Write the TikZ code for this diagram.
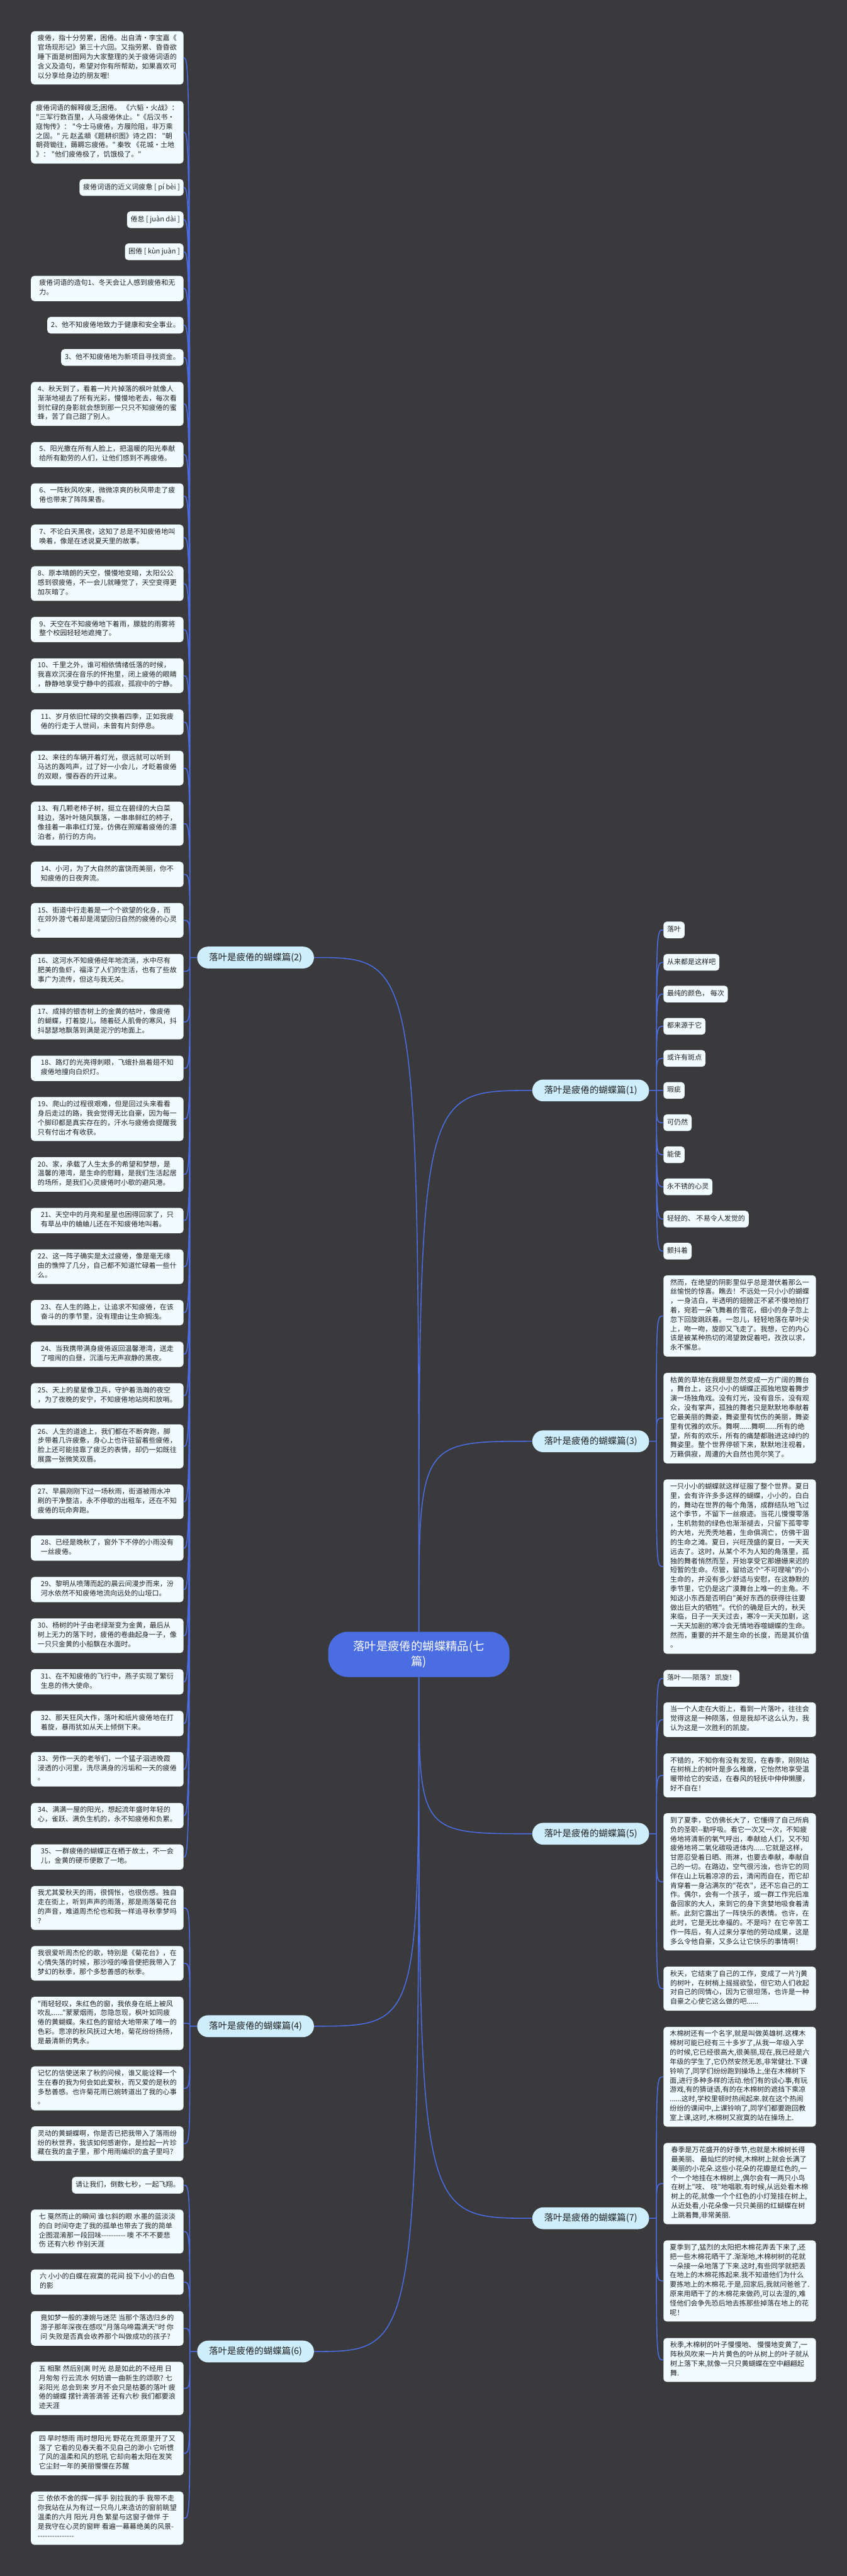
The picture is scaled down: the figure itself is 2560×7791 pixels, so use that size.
\documentclass[tikz,border=0pt]{standalone}
\usepackage{fontspec}
\usepackage{tikz}
\usetikzlibrary{positioning}
\newfontfamily\cjk[Ligatures=TeXOff]{Noto Sans CJK SC}
\definecolor{bgc}{RGB}{58,57,60}
\definecolor{leafc}{RGB}{240,252,255}
\definecolor{branchc}{RGB}{206,238,253}
\definecolor{linkc}{RGB}{74,108,224}
\definecolor{rootc}{RGB}{74,110,226}
\definecolor{inkc}{RGB}{34,34,34}

\begin{document}
\begin{tikzpicture}[x=0.5pt,y=-0.5pt,
  leaf/.style={fill=leafc,text=inkc,rounded corners=5pt,inner xsep=5.5pt,inner ysep=5.5pt,align=left,font=\cjk\fontsize{10.5}{14.1}\selectfont,execute at begin node=\strut,execute at end node=\strut},
  longleaf/.style={leaf,inner xsep=5pt,minimum width=230.5pt},
  branch/.style={fill=branchc,text=inkc,rounded corners=16.5pt,minimum width=176.5pt,minimum height=33pt,font=\cjk\fontsize{13.75}{16}\selectfont},
  link/.style={draw=linkc,line width=1.5pt}]
      \fill[bgc] (0,0) rectangle (2560,7791);
      \useasboundingbox (0,0) rectangle (2560,7791);

      \node[fill=rootc,text=white,rounded corners=30pt,minimum width=274pt,minimum height=68.5pt,align=center,font=\cjk\fontsize{17.5}{23.5}\selectfont](root) at (1266,5003.5){落叶是疲倦的蝴蝶精品(七\\篇)};

      \node[branch](b1) at (1785.5,3298){落叶是疲倦的蝴蝶篇(1)};
      \node[branch](b2) at (772.5,2896){落叶是疲倦的蝴蝶篇(2)};
      \node[branch](b3) at (1785.5,4359){落叶是疲倦的蝴蝶篇(3)};
      \node[branch](b4) at (772.5,6128){落叶是疲倦的蝴蝶篇(4)};
      \node[branch](b5) at (1785.5,5546){落叶是疲倦的蝴蝶篇(5)};
      \node[branch](b6) at (772.5,7112){落叶是疲倦的蝴蝶篇(6)};
      \node[branch](b7) at (1785.5,6709){落叶是疲倦的蝴蝶篇(7)};

      \node[longleaf,anchor=east](l1) at (555,175){疲倦，指十分劳累，困倦。出自清·李宝嘉《\\官场现形记》第三十六回。又指劳累、昏昏欲\\睡下面是树图网为大家整理的关于疲倦词语的\\含义及造句，希望对你有所帮助，如果喜欢可\\以分享给身边的朋友喔!};
      \node[longleaf,anchor=east](l2) at (555,400){疲倦词语的解释疲乏;困倦。 《六韬·火战》：\\"三军行数百里，人马疲倦休止。"《后汉书·\\寇恂传》： "今士马疲倦，方履险阻，非万乘\\之固。" 元 赵孟頫《题耕织图》诗之四： "朝\\朝荷锄往，薅耨忘疲倦。" 秦牧 《花城·土地\\》： "他们疲倦极了，饥饿极了。"};
      \node[leaf,anchor=east](l3) at (555,567){疲倦词语的近义词疲惫 [ pí bèi ]};
      \node[leaf,anchor=east](l4) at (555,664.5){倦怠 [ juàn dài ]};
      \node[leaf,anchor=east](l5) at (555,761.5){困倦 [ kùn juàn ]};
      \node[longleaf,anchor=east](l6) at (555,872.5){疲倦词语的造句1、冬天会让人感到疲倦和无\\力。};
      \node[leaf,anchor=east](l7) at (555,983.5){2、他不知疲倦地致力于健康和安全事业。};
      \node[leaf,anchor=east](l8) at (555,1081){3、他不知疲倦地为新项目寻找资金。};
      \node[longleaf,anchor=east](l9) at (555,1221.5){4、秋天到了，看着一片片掉落的枫叶就像人\\渐渐地褪去了所有光彩，慢慢地老去，每次看\\到忙碌的身影就会想到那一只只不知疲倦的蜜\\蜂，苦了自己甜了别人。};
      \node[longleaf,anchor=east](l10) at (555,1375){5、阳光撒在所有人脸上，把温暖的阳光奉献\\给所有勤劳的人们，让他们感到不再疲倦。};
      \node[longleaf,anchor=east](l11) at (555,1500){6、一阵秋风吹来，微微凉爽的秋风带走了疲\\倦也带来了阵阵果香。};
      \node[longleaf,anchor=east](l12) at (555,1625){7、不论白天黑夜，这知了总是不知疲倦地叫\\唤着，像是在述说夏天里的故事。};
      \node[longleaf,anchor=east](l13) at (555,1765){8、原本晴朗的天空，慢慢地变暗，太阳公公\\感到很疲倦，不一会儿就睡觉了，天空变得更\\加灰暗了。};
      \node[longleaf,anchor=east](l14) at (555,1904){9、天空在不知疲倦地下着雨，朦胧的雨雾将\\整个校园轻轻地遮掩了。};
      \node[longleaf,anchor=east](l15) at (555,2043.5){10、千里之外，谁可相依情绪低落的时候，\\我喜欢沉浸在音乐的怀抱里，闭上疲倦的眼睛\\，静静地享受宁静中的孤寂，孤寂中的宁静。};
      \node[longleaf,anchor=east](l16) at (555,2184){11、岁月依旧忙碌的交换着四季，正如我疲\\倦的行走于人世间，未曾有片刻停息。};
      \node[longleaf,anchor=east](l17) at (555,2323){12、来往的车辆开着灯光，很远就可以听到\\马达的轰鸣声，过了好一小会儿，才眨着疲倦\\的双眼，慢吞吞的开过来。};
      \node[longleaf,anchor=east](l18) at (555,2491){13、有几颗老柿子树，挺立在碧绿的大白菜\\畦边，落叶叶随风飘落，一串串鲜红的柿子，\\像挂着一串串红灯笼，仿佛在照耀着疲倦的漂\\泊者，前行的方向。};
      \node[longleaf,anchor=east](l19) at (555,2644.5){14、小河，为了大自然的富饶而美丽，你不\\知疲倦的日夜奔流。};
      \node[longleaf,anchor=east](l20) at (555,2783.5){15、街道中行走着是一个个欲望的化身，而\\在郊外游弋着却是渴望回归自然的疲倦的心灵\\。};
      \node[longleaf,anchor=east](l21) at (555,2937.5){16、这河水不知疲倦经年地流淌，水中尽有\\肥美的鱼虾，福泽了人们的生活，也有了些故\\事广为流传，但这与我无关。};
      \node[longleaf,anchor=east](l22) at (555,3091){17、成排的银杏树上的金黄的枯叶，像疲倦\\的蝴蝶，打着旋儿，随着砭人肌骨的寒风，抖\\抖瑟瑟地飘落到满是泥泞的地面上。};
      \node[longleaf,anchor=east](l23) at (555,3231){18、路灯的光亮得刺眼，飞蛾扑扇着翅不知\\疲倦地撞向白炽灯。};
      \node[longleaf,anchor=east](l24) at (555,3384.5){19、爬山的过程很艰难，但是回过头来看看\\身后走过的路，我会觉得无比自豪，因为每一\\个脚印都是真实存在的，汗水与疲倦会提醒我\\只有付出才有收获。};
      \node[longleaf,anchor=east](l25) at (555,3552){20、家，承载了人生太多的希望和梦想，是\\温馨的港湾，是生命的慰籍，是我们生活起居\\的场所，是我们心灵疲倦时小歇的避风港。};
      \node[longleaf,anchor=east](l26) at (555,3691.5){21、天空中的月亮和星星也困得回家了，只\\有草丛中的蛐蛐儿还在不知疲倦地叫着。};
      \node[longleaf,anchor=east](l27) at (555,3831){22、这一阵子确实是太过疲倦，像是毫无缘\\由的憔悴了几分，自己都不知道忙碌着一些什\\么。};
      \node[longleaf,anchor=east](l28) at (555,3970){23、在人生的路上，让追求不知疲倦，在该\\奋斗的的季节里，没有理由让生命搁浅。};
      \node[longleaf,anchor=east](l29) at (555,4096){24、当我携带满身疲倦返回温馨港湾，送走\\了喧闹的白昼，沉湎与无声寂静的黑夜。};
      \node[longleaf,anchor=east](l30) at (555,4221.5){25、天上的星星像卫兵，守护着浩瀚的夜空\\，为了夜晚的安宁，不知疲倦地站岗和放哨。};
      \node[longleaf,anchor=east](l31) at (555,4374.5){26、人生的道途上，我们都在不断奔跑，脚\\步带着几许疲惫，身心上也许驻留着些疲倦，\\脸上还可能挂靠了疲乏的表情，却仍一如既往\\展露一张微笑双唇。};
      \node[longleaf,anchor=east](l32) at (555,4542){27、早晨刚刚下过一场秋雨，街道被雨水冲\\刷的干净整洁，永不停歇的出租车，还在不知\\疲倦的玩命奔跑。};
      \node[longleaf,anchor=east](l33) at (555,4682){28、已经是晚秋了，窗外下不停的小雨没有\\一丝疲倦。};
      \node[longleaf,anchor=east](l34) at (555,4807.5){29、黎明从喷薄而起的晨云间漫步而来，汾\\河水依然不知疲倦地流向远处的山垭口。};
      \node[longleaf,anchor=east](l35) at (555,4947){30、杨树的叶子由老绿渐变为金黄，最后从\\树上无力的落下时，疲倦的卷曲起身一子，像\\一只只金黄的小船飘在水面时。};
      \node[longleaf,anchor=east](l36) at (555,5086.5){31、在不知疲倦的飞行中，燕子实现了繁衍\\生息的伟大使命。};
      \node[longleaf,anchor=east](l37) at (555,5212.5){32、那天狂风大作，落叶和纸片疲倦地在打\\着旋，暴雨犹如从天上倾倒下来。};
      \node[longleaf,anchor=east](l38) at (555,5351){33、劳作一天的老爷们，一个猛子泅进晚霞\\浸透的小河里，洗尽满身的污垢和一天的疲倦\\。};
      \node[longleaf,anchor=east](l39) at (555,5491){34、满满一屋的阳光，想起流年盛时年轻的\\心，雀跃、满负生机的，永不知疲倦和负累。};
      \node[longleaf,anchor=east](l40) at (555,5616.5){35、一群疲倦的蝴蝶正在栖于故土，不一会\\儿，金黄的硬币便散了一地。};

      \node[longleaf,anchor=east](l41) at (555,5770.5){我尤其爱秋天的雨，很惆怅，也很伤感。独自\\走在街上，听到声声的雨落，那是雨落菊花台\\的声音，难道周杰伦也和我一样追寻秋季梦吗\\？};
      \node[longleaf,anchor=east](l42) at (555,5938){我很爱听周杰伦的歌，特别是《菊花台》，在\\心情失落的时候，那沙哑的嗓音便把我带入了\\梦幻的秋季，那个多愁善感的秋季。};
      \node[longleaf,anchor=east](l43) at (555,6119.5){"雨轻轻叹，朱红色的窗，我依身在纸上被风\\吹乱......"蒙蒙烟雨，忽隐忽现，枫叶如同疲\\倦的黄蝴蝶。朱红色的窗给大地带来了唯一的\\色彩。悲凉的秋风抚过大地，菊花纷纷扬扬，\\是最清新的隽永。};
      \node[longleaf,anchor=east](l44) at (555,6316){记忆的信使送来了秋的问候，谁又能诠释一个\\生在春的我为何会如此爱秋，而又爱的是秋的\\多愁善感。也许菊花雨已婉转道出了我的心事\\。};
      \node[longleaf,anchor=east](l45) at (555,6483.5){灵动的黄蝴蝶啊，你是否已把我带入了落雨纷\\纷的秋世界，我该如何感谢你，是捡起一片珍\\藏在我的盒子里，那个用雨编织的盒子里吗？};

      \node[leaf,anchor=east](l46) at (555,6609){请让我们，倒数七秒，一起飞翔。};
      \node[longleaf,anchor=east](l47) at (555,6749){七 戛然而止的瞬间 谁乜斜的眼 水墨的蓝淡淡\\的白 时间夺走了我的孤单也带去了我的简单\\企图混淆那一段回味---------- 噢 不不不要悲\\伤 还有六秒 作别天涯};
      \node[longleaf,anchor=east](l48) at (555,6902){六 小小的白蝶在寂寞的花间 投下小小的白色\\的影};
      \node[longleaf,anchor=east](l49) at (555,7042){竟如梦一般的凄婉与迷茫 当那个落选归乡的\\游子那年深夜在感叹"月落乌啼霜满天"时 你\\问 失败是否真会收养那个叫做成功的孩子?};
      \node[longleaf,anchor=east](l50) at (555,7223.5){五 相聚 然后别离 时光 总是如此的不经用 日\\月匆匆 行云流水 何妨谱一曲新生的颂歌? 七\\彩阳光 总会到来 岁月不会只是枯萎的落叶 疲\\倦的蝴蝶 摆针滴答滴答 还有六秒 我们都要浪\\迹天涯};
      \node[longleaf,anchor=east](l51) at (555,7420){四 旱时想雨 雨时想阳光 野花在荒原里开了又\\落了 它看的见春天看不见自己的渺小 它听惯\\了风的温柔和风的怒吼 它却向着太阳在发笑\\它尘封一年的美丽慢慢在苏醒};
      \node[longleaf,anchor=east](l52) at (555,7616){三 依依不舍的挥一挥手 别拉我的手 我带不走\\你我站在从为有过一只鸟儿来造访的窗前眺望\\温柔的六月 阳光 月色 繁星与这窗子做伴 于\\是我守在心灵的窗畔 看遍一幕幕绝美的风景-\\---------------};

      \node[leaf,anchor=west](r1) at (2005,2812.5){落叶};
      \node[leaf,anchor=west](r2) at (2005,2910.5){从来都是这样吧};
      \node[leaf,anchor=west](r3) at (2005,3006.5){最纯的颜色， 每次};
      \node[leaf,anchor=west](r4) at (2005,3104){都来源于它};
      \node[leaf,anchor=west](r5) at (2005,3201){或许有斑点};
      \node[leaf,anchor=west](r6) at (2005,3298){瑕疵};
      \node[leaf,anchor=west](r7) at (2005,3395.5){可仍然};
      \node[leaf,anchor=west](r8) at (2005,3492.5){能使};
      \node[leaf,anchor=west](r9) at (2005,3589.5){永不锈的心灵};
      \node[leaf,anchor=west](r10) at (2005,3687){轻轻的、 不易令人发觉的};
      \node[leaf,anchor=west](r11) at (2005,3784){颤抖着};

      \node[longleaf,anchor=west](r12) at (2005,3980){然而，在绝望的阴影里似乎总是潜伏着那么一\\丝愉悦的惊喜。瞧去！不远处一只小小的蝴蝶\\，一身洁白，半透明的翅膀正不紧不慢地拍打\\着，宛若一朵飞舞着的雪花，细小的身子忽上\\忽下回旋跳跃着。一忽儿，轻轻地落在草叶尖\\上，吻一吻，旋即又飞走了。我想，它的内心\\该是被某种热切的渴望敦促着吧，孜孜以求，\\永不懈怠。};
      \node[longleaf,anchor=west](r13) at (2005,4289){枯黄的草地在我眼里忽然变成一方广阔的舞台\\，舞台上，这只小小的蝴蝶正孤独地旋着舞步\\演一场独角戏。没有灯光，没有音乐，没有观\\众，没有掌声，孤独的舞者只是默默地奉献着\\它最美丽的舞姿，舞姿里有忧伤的美丽，舞姿\\里有优雅的欢乐。舞啊......舞啊......所有的绝\\望，所有的欢乐，所有的痛楚都融进这绰约的\\舞姿里。整个世界停顿下来，默默地注视着，\\万籁俱寂，周遭的大自然也莞尔笑了。};
      \node[longleaf,anchor=west](r14) at (2005,4738){一只小小的蝴蝶就这样征服了整个世界。夏日\\里，会有许许多多这样的蝴蝶，小小的，白白\\的，舞动在世界的每个角落，成群结队地飞过\\这个季节，不留下一丝痕迹。当花儿慢慢零落\\，生机勃勃的绿色也渐渐褪去，只留下孤零零\\的大地，光秃秃地着，生命俱凋亡，仿佛干涸\\的生命之滩。夏日，兴旺茂盛的夏日，一天天\\远去了。这时，从某个不为人知的角落里，孤\\独的舞者悄然而至，开始享受它那姗姗来迟的\\短暂的生命。尽管，留给这个"不可理喻"的小\\生命的，并没有多少舒适与安慰，在这静默的\\季节里，它仍是这广漠舞台上唯一的主角。不\\知这小东西是否明白"美好东西的获得往往要\\做出巨大的牺牲"。代价的确是巨大的，秋天\\来临，日子一天天过去，寒冷一天天加剧，这\\一天天加剧的寒冷会无情地吞噬蝴蝶的生命。\\然而，重要的并不是生命的长度，而是其价值\\。};

      \node[leaf,anchor=west](r15) at (2005,5076){落叶——陨落？ 凯旋！};
      \node[longleaf,anchor=west](r16) at (2005,5201){当一个人走在大街上，看到一片落叶，往往会\\觉得这是一种陨落，但是我却不这么认为，我\\认为这是一次胜利的凯旋。};
      \node[longleaf,anchor=west](r17) at (2005,5369.5){不错的，不知你有没有发现，在春季，刚刚站\\在树梢上的树叶是多么稚嫩，它怡然地享受温\\暖带给它的安适，在春风的轻抚中伸伸懒腰，\\好不自在！};
      \node[longleaf,anchor=west](r18) at (2005,5691.5){到了夏季，它仿佛长大了，它懂得了自己所肩\\负的圣职--勤呼吸。看它一次又一次，不知疲\\倦地将清新的氧气呼出，奉献给人们，又不知\\疲倦地将二氧化碳吸进体内......它就是这样，\\甘愿忍受着日晒、雨淋，也要去奉献，奉献自\\己的一切。在路边，空气很污浊，也许它的同\\伴在山上玩着凉凉的云，清闲而自在，而它却\\肯穿着一身沾满灰的"花衣"，还不忘自己的工\\作。偶尔，会有一个孩子，或一群工作完后准\\备回家的大人，来到它的身下贪婪地吸食着清\\新。此刻它露出了一阵快乐的表情。也许，在\\此时，它是无比幸福的。不是吗？在它辛苦工\\作一阵后，有人过来分享他的劳动成果，这是\\多么令他自豪，又多么让它快乐的事情啊！};
      \node[longleaf,anchor=west](r19) at (2005,6014.5){秋天，它结束了自己的工作，变成了一片?j黄\\的树叶，在树梢上摇摇欲坠，但它劝人们收起\\对自己的同情心，因为它很坦荡，也许是一种\\自豪之心使它这么做的吧......};

      \node[longleaf,anchor=west](r20) at (2005,6281){木棉树还有一个名字,就是叫做英雄树.这棵木\\棉树可能已经有三十多岁了,从我一年级入学\\的时候,它已经很高大,很美丽,现在,我已经是六\\年级的学生了,它仍然安然无恙,非常健壮.下课\\铃响了,同学们纷纷跑到操场上,坐在木棉树下\\面,进行多种多样的活动.他们有的谈心事,有玩\\游戏,有的猜谜语,有的在木棉树的遮挡下乘凉\\......这时,学校里顿时热闹起来.就在这个热闹\\纷纷的课间中,上课铃响了,同学们都要跑回教\\室上课,这时,木棉树又寂寞的站在操场上.};
      \node[longleaf,anchor=west](r21) at (2005,6604){春季是万花盛开的好季节,也就是木棉树长得\\最美丽、 最灿烂的时候,木棉树上就会长满了\\美丽的小花朵.这些小花朵的花瓣是红色的,一\\个一个地挂在木棉树上,偶尔会有一两只小鸟\\在树上"吱、 吱"地唱歌.有时候,从远处看木棉\\树上的花,就像一个个红色的小灯笼挂在树上,\\从近处看,小花朵像一只只美丽的红蝴蝶在树\\上跳着舞,非常美丽.};
      \node[longleaf,anchor=west](r22) at (2005,6898.5){夏季到了,猛烈的太阳把木棉花弄丢下来了,还\\把一些木棉花晒干了.渐渐地,木棉树树的花就\\一朵接一朵地落了下来.这时,有些同学就把丢\\在地上的木棉花拣起来.我不知道他们为什么\\要拣地上的木棉花.于是,回家后,我就问爸爸了.\\原来用晒干了的木棉花来做药,可以去湿的,难\\怪他们会争先恐后地去拣那些掉落在地上的花\\呢！};
      \node[longleaf,anchor=west](r23) at (2005,7137.5){秋季,木棉树的叶子慢慢地、 慢慢地变黄了,一\\阵秋风吹来一片片黄色的叶从树上的叶子就从\\树上落下来,就像一只只黄蝴蝶在空中翩翩起\\舞.};

      \coordinate (k1) at (1984,3298);
      \coordinate (k2) at (574,2896);
      \coordinate (k3) at (1984,4359);
      \coordinate (k4) at (574,6128);
      \coordinate (k5) at (1984,5546);
      \coordinate (k6) at (574,7112);
      \coordinate (k7) at (1984,6709);

      \draw[link] (root.north) .. controls (root.north |- b2.east) .. (b2.east);
      \draw[link] (root.south) .. controls (root.south |- b4.east) .. (b4.east);
      \draw[link] (root.south) .. controls (root.south |- b6.east) .. (b6.east);
      \draw[link] (root.north) .. controls (root.north |- b1.west) .. (b1.west);
      \draw[link] (root.north) .. controls (root.north |- b3.west) .. (b3.west);
      \draw[link] (root.south) .. controls (root.south |- b5.west) .. (b5.west);
      \draw[link] (root.south) .. controls (root.south |- b7.west) .. (b7.west);

      \draw[link] (b2.west) -- (k2)
        (k2) .. controls (k2 |- l1.east) .. (l1.east)
        (k2) .. controls (k2 |- l2.east) .. (l2.east)
        (k2) .. controls (k2 |- l3.east) .. (l3.east)
        (k2) .. controls (k2 |- l4.east) .. (l4.east)
        (k2) .. controls (k2 |- l5.east) .. (l5.east)
        (k2) .. controls (k2 |- l6.east) .. (l6.east)
        (k2) .. controls (k2 |- l7.east) .. (l7.east)
        (k2) .. controls (k2 |- l8.east) .. (l8.east)
        (k2) .. controls (k2 |- l9.east) .. (l9.east)
        (k2) .. controls (k2 |- l10.east) .. (l10.east)
        (k2) .. controls (k2 |- l11.east) .. (l11.east)
        (k2) .. controls (k2 |- l12.east) .. (l12.east)
        (k2) .. controls (k2 |- l13.east) .. (l13.east)
        (k2) .. controls (k2 |- l14.east) .. (l14.east)
        (k2) .. controls (k2 |- l15.east) .. (l15.east)
        (k2) .. controls (k2 |- l16.east) .. (l16.east)
        (k2) .. controls (k2 |- l17.east) .. (l17.east)
        (k2) .. controls (k2 |- l18.east) .. (l18.east)
        (k2) .. controls (k2 |- l19.east) .. (l19.east)
        (k2) .. controls (k2 |- l20.east) .. (l20.east)
        (k2) .. controls (k2 |- l21.east) .. (l21.east)
        (k2) .. controls (k2 |- l22.east) .. (l22.east)
        (k2) .. controls (k2 |- l23.east) .. (l23.east)
        (k2) .. controls (k2 |- l24.east) .. (l24.east)
        (k2) .. controls (k2 |- l25.east) .. (l25.east)
        (k2) .. controls (k2 |- l26.east) .. (l26.east)
        (k2) .. controls (k2 |- l27.east) .. (l27.east)
        (k2) .. controls (k2 |- l28.east) .. (l28.east)
        (k2) .. controls (k2 |- l29.east) .. (l29.east)
        (k2) .. controls (k2 |- l30.east) .. (l30.east)
        (k2) .. controls (k2 |- l31.east) .. (l31.east)
        (k2) .. controls (k2 |- l32.east) .. (l32.east)
        (k2) .. controls (k2 |- l33.east) .. (l33.east)
        (k2) .. controls (k2 |- l34.east) .. (l34.east)
        (k2) .. controls (k2 |- l35.east) .. (l35.east)
        (k2) .. controls (k2 |- l36.east) .. (l36.east)
        (k2) .. controls (k2 |- l37.east) .. (l37.east)
        (k2) .. controls (k2 |- l38.east) .. (l38.east)
        (k2) .. controls (k2 |- l39.east) .. (l39.east)
        (k2) .. controls (k2 |- l40.east) .. (l40.east);

      \draw[link] (b4.west) -- (k4)
        (k4) .. controls (k4 |- l41.east) .. (l41.east)
        (k4) .. controls (k4 |- l42.east) .. (l42.east)
        (k4) .. controls (k4 |- l43.east) .. (l43.east)
        (k4) .. controls (k4 |- l44.east) .. (l44.east)
        (k4) .. controls (k4 |- l45.east) .. (l45.east);

      \draw[link] (b6.west) -- (k6)
        (k6) .. controls (k6 |- l46.east) .. (l46.east)
        (k6) .. controls (k6 |- l47.east) .. (l47.east)
        (k6) .. controls (k6 |- l48.east) .. (l48.east)
        (k6) .. controls (k6 |- l49.east) .. (l49.east)
        (k6) .. controls (k6 |- l50.east) .. (l50.east)
        (k6) .. controls (k6 |- l51.east) .. (l51.east)
        (k6) .. controls (k6 |- l52.east) .. (l52.east);

      \draw[link] (b1.east) -- (k1)
        (k1) .. controls (k1 |- r1.west) .. (r1.west)
        (k1) .. controls (k1 |- r2.west) .. (r2.west)
        (k1) .. controls (k1 |- r3.west) .. (r3.west)
        (k1) .. controls (k1 |- r4.west) .. (r4.west)
        (k1) .. controls (k1 |- r5.west) .. (r5.west)
        (k1) .. controls (k1 |- r6.west) .. (r6.west)
        (k1) .. controls (k1 |- r7.west) .. (r7.west)
        (k1) .. controls (k1 |- r8.west) .. (r8.west)
        (k1) .. controls (k1 |- r9.west) .. (r9.west)
        (k1) .. controls (k1 |- r10.west) .. (r10.west)
        (k1) .. controls (k1 |- r11.west) .. (r11.west);

      \draw[link] (b3.east) -- (k3)
        (k3) .. controls (k3 |- r12.west) .. (r12.west)
        (k3) .. controls (k3 |- r13.west) .. (r13.west)
        (k3) .. controls (k3 |- r14.west) .. (r14.west);

      \draw[link] (b5.east) -- (k5)
        (k5) .. controls (k5 |- r15.west) .. (r15.west)
        (k5) .. controls (k5 |- r16.west) .. (r16.west)
        (k5) .. controls (k5 |- r17.west) .. (r17.west)
        (k5) .. controls (k5 |- r18.west) .. (r18.west)
        (k5) .. controls (k5 |- r19.west) .. (r19.west);

      \draw[link] (b7.east) -- (k7)
        (k7) .. controls (k7 |- r20.west) .. (r20.west)
        (k7) .. controls (k7 |- r21.west) .. (r21.west)
        (k7) .. controls (k7 |- r22.west) .. (r22.west)
        (k7) .. controls (k7 |- r23.west) .. (r23.west);
    \end{tikzpicture}
\end{document}
